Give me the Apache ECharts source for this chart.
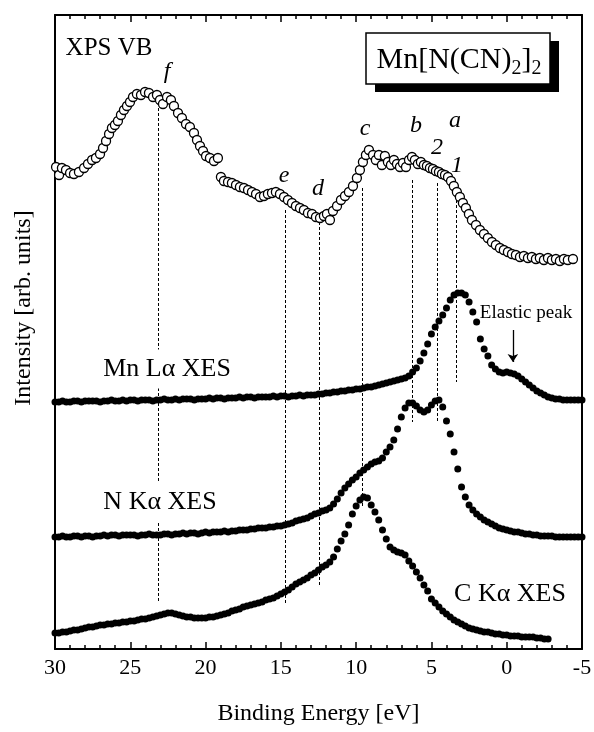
<!DOCTYPE html>
<html>
<head>
<meta charset="utf-8">
<script src="https://cdn.jsdelivr.net/npm/echarts@6/dist/echarts.min.js"></script>
<style>
  html, body { margin: 0; padding: 0; background: #fff; }
  #chart { width: 594px; height: 732px; }
</style>
</head>
<body>
<div id="chart"></div>
<script>
// Mn[N(CN)2]2 valence band: XPS VB compared with Mn L-alpha, N K-alpha and C K-alpha XES
// Binding energies in eV, intensities in arbitrary units (curves are offset vertically).

// XPS valence band (open circles)
const xpsEnergy = [
  29.93, 29.73, 29.54, 29.27, 29.0, 28.74, 28.41, 28.07, 27.81, 27.54,
  27.28, 27.01, 26.81, 26.61, 26.41, 26.22, 26.02, 25.82, 25.62, 25.42,
  25.22, 25.02, 24.82, 24.56, 24.29, 24.02, 23.76, 23.49, 23.23, 23.03,
  22.83, 22.56, 22.3, 22.1, 21.83, 21.57, 21.3, 21.04, 20.77, 20.57,
  20.37, 20.17, 19.97, 19.71, 19.44, 19.18, 18.98, 18.78, 18.51, 18.25,
  17.98, 17.72, 17.45, 17.18, 16.92, 16.65, 16.39, 16.12, 15.86, 15.59,
  15.33, 15.06, 14.79, 14.53, 14.26, 14.0, 13.73, 13.47, 13.2, 12.93,
  12.67, 12.4, 12.14, 11.94, 11.74, 11.54, 11.27, 11.01, 10.74, 10.48,
  10.21, 9.95, 9.75, 9.55, 9.35, 9.15, 8.88, 8.69, 8.49, 8.29,
  8.09, 7.89, 7.69, 7.49, 7.29, 7.09, 6.89, 6.69, 6.49, 6.29,
  6.1, 5.9, 5.7, 5.5, 5.3, 5.1, 4.9, 4.7, 4.5, 4.3,
  4.1, 3.9, 3.7, 3.51, 3.31, 3.11, 2.91, 2.71, 2.51, 2.31,
  2.04, 1.78, 1.51, 1.25, 0.98, 0.72, 0.45, 0.19, -0.08, -0.35,
  -0.61, -0.88, -1.14, -1.41, -1.67, -1.94, -2.2, -2.47, -2.74, -3.0,
  -3.27, -3.53, -3.8, -4.06, -4.4
];
const xpsIntensity = [
  482, 474, 481, 479, 476, 475, 477, 481, 485, 489,
  491, 495, 501, 508, 515, 521, 524, 528, 534, 539,
  543, 547, 552, 555, 554, 557, 556, 552, 554, 549,
  545, 552, 549, 543, 536, 531, 525, 522, 516, 509,
  503, 498, 493, 491, 488, 491, 472, 468, 467, 466,
  464, 462, 461, 459, 457, 455, 452, 453, 455, 456,
  457, 455, 452, 449, 446, 443, 441, 439, 436, 435,
  432, 431, 433, 435, 429, 438, 443, 449, 453, 457,
  463, 471, 479, 487, 494, 499, 494, 489, 494, 484,
  493, 487, 484, 489, 485, 482, 486, 482, 489, 492,
  489, 485, 487, 484, 483, 481, 480, 478, 477, 475,
  474, 472, 468, 463, 457, 452, 446, 441, 435, 429,
  424, 419, 415, 411, 407, 404, 401, 399, 397, 395,
  394, 392, 393, 391, 392, 390, 391, 389, 391, 389,
  390, 388, 390, 389, 390
];

// XES spectra are sampled on a common energy grid starting at 30 eV, 0.25 eV apart
const xesStartEnergy = 30;
const xesEnergyStep = 0.25;

// Mn L-alpha XES (30 ... -5 eV)
const mnIntensity = [
  247, 247, 248, 247,  247, 248, 248, 247,  248, 248, 248, 248,  247, 248, 248, 249,
  248, 248, 249, 248,  249, 249, 248, 249,  249, 249, 248, 249,  249, 250, 249, 249,
  250, 249, 250, 250,  250, 249, 250, 250,  250, 251, 250, 251,  251, 250, 251, 251,
  251, 252, 251, 252,  252, 251, 252, 252,  252, 252, 253, 252,  253, 253, 252, 253,
  253, 254, 253, 254,  254, 254, 255, 255,  256, 256, 257, 257,  258, 258, 259, 259,
  260, 260, 261, 262,  262, 263, 264, 265,  266, 267, 268, 269,  270, 271, 273, 277,
  281, 288, 296, 305,  315, 322, 328, 334,  341, 349, 354, 356,  356, 354, 347, 337,
  327, 310, 300, 293,  284, 280, 277, 276,  277, 276, 275, 273,  270, 267, 264, 261,
  258, 256, 254, 252,  251, 250, 250, 249,  249, 249, 249, 249,  249
];

// N K-alpha XES (30 ... -5 eV)
const nIntensity = [
  112, 112, 113, 112,  112, 113, 113, 112,  113, 113, 112, 113,  113, 114, 113, 114,
  114, 113, 114, 114,  114, 114, 113, 114,  114, 115, 114, 114,  114, 115, 115, 114,
  115, 115, 116, 115,  116, 116, 115, 116,  117, 116, 117, 117,  117, 118, 117, 118,
  118, 119, 119, 119,  120, 120, 121, 121,  121, 122, 122, 123,  123, 124, 125, 126,
  128, 129, 130, 131,  133, 135, 136, 138,  139, 141, 145, 150,  156, 161, 165, 169,
  172, 176, 179, 182,  185, 187, 188, 191,  197, 202, 209, 220,  232, 241, 246, 246,
  243, 239, 237, 239,  244, 248, 249, 242,  228, 215, 197, 180,  162, 152, 144, 139,
  135, 132, 129, 127,  125, 123, 121, 120,  119, 118, 117, 117,  116, 115, 115, 114,
  114, 113, 113, 113,  113, 112, 112, 112,  112, 112, 112, 112,  112
];

// C K-alpha XES (30 ... -2.75 eV)
const cIntensity = [
  16, 16, 17, 17,  18, 19, 19, 20,  21, 22, 22, 23,  24, 24, 25, 25,
  26, 26, 27, 27,  28, 28, 29, 30,  30, 31, 32, 33,  34, 35, 36, 36,
  35, 34, 33, 32,  32, 31, 31, 31,  31, 32, 32, 33,  34, 35, 36, 38,
  39, 40, 42, 43,  44, 45, 46, 47,  49, 50, 51, 53,  55, 57, 59, 62,
  65, 67, 69, 71,  74, 76, 79, 82,  84, 87, 92, 100,  108, 115, 124, 135,
  143, 149, 152, 151,  144, 137, 129, 119,  110, 102, 99, 97,  96, 94, 88, 83,
  77, 71, 64, 58,  50, 46, 42, 38,  35, 32, 29, 27,  25, 23, 21, 20,
  19, 18, 17, 17,  16, 15, 15, 14,  14, 13, 13, 13,  12, 12, 12, 12,
  11, 11, 10, 10
];

// Feature markers (dashed guides): energy and vertical extent in intensity units
const guideEnergy = [23.16, 14.68, 12.47, 9.6, 6.25, 4.62, 3.33];
const guideTop    = [541, 439, 427, 461, 469, 466, 449];
const guideBottom = [46, 44, 62, 142, 227, 226, 267];

// Elastic peak arrow (energy, from, to)
const elasticArrow = [-0.41, 319, 287];

// Axis ticks
const energyMin = -5, energyMax = 30, energyTickStep = 5;

const FONT = '"Liberation Serif", "Times New Roman", serif';

function gridSeries(values) {
  return values.map((v, i) => [xesStartEnergy - i * xesEnergyStep, v]);
}

const chart = echarts.init(document.getElementById('chart'), null, { renderer: 'canvas' });

const axisCommon = {
  type: 'value',
  inverse: true,
  min: energyMin,
  max: energyMax,
  interval: energyTickStep,
  axisLine: { show: true, onZero: false, lineStyle: { color: '#000', width: 2 } },
  axisTick: { show: true, inside: true, length: 7, lineStyle: { color: '#000', width: 1.5 } },
  minorTick: { show: true, splitNumber: 5, length: 4, lineStyle: { color: '#000', width: 1.5 } },
  splitLine: { show: false },
  minorSplitLine: { show: false }
};

const textEl = (x, y, text, size, extra) => Object.assign({
  type: 'text', z: 100, x: x, y: y,
  style: Object.assign({
    text: text, fontSize: size, fontFamily: FONT, fill: '#000',
    align: 'center', verticalAlign: 'middle'
  }, extra || {})
});

const xesSymbolSize = 7;
const xesItemStyle = { color: '#000', opacity: 1 };

const option = {
  animation: false,
  backgroundColor: '#fff',
  grid: { left: 55, right: 12, top: 15, bottom: 83, containLabel: false, outerBoundsMode: 'none' },
  xAxis: [
    Object.assign({}, axisCommon, {
      position: 'bottom',
      axisLabel: { show: true, fontSize: 22, fontFamily: FONT, color: '#000', margin: 8,
                   showMinLabel: true, showMaxLabel: true },
      name: 'Binding Energy [eV]',
      nameLocation: 'middle',
      nameGap: 53,
      nameTextStyle: { fontSize: 24, fontFamily: FONT, color: '#000' }
    }),
    Object.assign({}, axisCommon, {
      position: 'top',
      axisLabel: { show: false }
    })
  ],
  yAxis: [
    { type: 'value', min: 0, max: 634, position: 'left',
      axisLine: { show: true, onZero: false, lineStyle: { color: '#000', width: 2 } },
      axisTick: { show: false }, axisLabel: { show: false }, splitLine: { show: false } },
    { type: 'value', min: 0, max: 634, position: 'right',
      axisLine: { show: true, onZero: false, lineStyle: { color: '#000', width: 2 } },
      axisTick: { show: false }, axisLabel: { show: false }, splitLine: { show: false } }
  ],
  series: [
    {
      name: 'guides',
      type: 'lines',
      coordinateSystem: 'cartesian2d',
      xAxisIndex: 0, yAxisIndex: 0,
      silent: true, z: 1,
      lineStyle: { color: '#000', width: 1, type: [3, 2], opacity: 1 },
      data: guideEnergy.map((e, i) => ({ coords: [[e, guideTop[i]], [e, guideBottom[i]]] }))
    },
    {
      name: 'Mn La XES', type: 'scatter', xAxisIndex: 0, yAxisIndex: 0, z: 3,
      symbol: 'circle', symbolSize: xesSymbolSize, itemStyle: xesItemStyle,
      data: gridSeries(mnIntensity)
    },
    {
      name: 'N Ka XES', type: 'scatter', xAxisIndex: 0, yAxisIndex: 0, z: 3,
      symbol: 'circle', symbolSize: xesSymbolSize, itemStyle: xesItemStyle,
      data: gridSeries(nIntensity)
    },
    {
      name: 'C Ka XES', type: 'scatter', xAxisIndex: 0, yAxisIndex: 0, z: 3,
      symbol: 'circle', symbolSize: xesSymbolSize, itemStyle: xesItemStyle,
      data: gridSeries(cIntensity)
    },
    {
      name: 'XPS VB', type: 'scatter', xAxisIndex: 0, yAxisIndex: 0, z: 4,
      symbol: 'circle', symbolSize: 9,
      itemStyle: { color: '#fff', borderColor: '#000', borderWidth: 1.3, opacity: 1 },
      data: xpsEnergy.map((e, i) => [e, xpsIntensity[i]])
    },
    {
      name: 'elastic arrow',
      type: 'lines',
      coordinateSystem: 'cartesian2d',
      xAxisIndex: 0, yAxisIndex: 0,
      silent: true, z: 5,
      symbol: ['none', 'arrow'], symbolSize: 8,
      lineStyle: { color: '#000', width: 1.3, opacity: 1 },
      data: [{ coords: [[elasticArrow[0], elasticArrow[1]], [elasticArrow[0], elasticArrow[2]]] }]
    }
  ],
  graphic: [
    // compound name box with drop shadow
    { type: 'rect', z: 100, shape: { x: 375, y: 41, width: 184, height: 51 }, style: { fill: '#000' } },
    { type: 'rect', z: 101, shape: { x: 366, y: 33, width: 184, height: 51 },
      style: { fill: '#fff', stroke: '#000', lineWidth: 1.5 } },
    { type: 'text', z: 102, x: 459, y: 60,
      style: {
        text: '{m|Mn[N(CN)}{s|2}{m|]}{s|2}',
        align: 'center', verticalAlign: 'middle', fill: '#000',
        rich: {
          m: { fontSize: 30, fontFamily: FONT, fill: '#000', lineHeight: 36 },
          s: { fontSize: 20, fontFamily: FONT, fill: '#000', lineHeight: 36, padding: [18, 0, 0, 0] }
        }
      }
    },
    textEl(109, 48, 'XPS VB', 25),
    textEl(167, 369, 'Mn Lα XES', 26, { backgroundColor: '#fff', padding: [8, 3, 5, 3] }),
    textEl(160, 502, 'N Kα XES', 26, { backgroundColor: '#fff', padding: [8, 3, 5, 3] }),
    textEl(510, 594, 'C Kα XES', 26),
    textEl(526, 313, 'Elastic peak', 19),
    // feature letters
    textEl(167, 72, 'f', 24, { fontStyle: 'italic' }),
    textEl(284, 176, 'e', 24, { fontStyle: 'italic' }),
    textEl(318, 189, 'd', 24, { fontStyle: 'italic' }),
    textEl(365, 129, 'c', 24, { fontStyle: 'italic' }),
    textEl(416, 126, 'b', 24, { fontStyle: 'italic' }),
    textEl(455, 121, 'a', 24, { fontStyle: 'italic' }),
    textEl(437, 148, '2', 24, { fontStyle: 'italic' }),
    textEl(457, 166, '1', 24, { fontStyle: 'italic' }),
    // vertical axis title
    { type: 'text', z: 100, x: 24, y: 308, rotation: Math.PI / 2,
      style: { text: 'Intensity [arb. units]', fontSize: 24, fontFamily: FONT, fill: '#000',
               align: 'center', verticalAlign: 'middle' } }
  ]
};

chart.setOption(option);
</script>
</body>
</html>
